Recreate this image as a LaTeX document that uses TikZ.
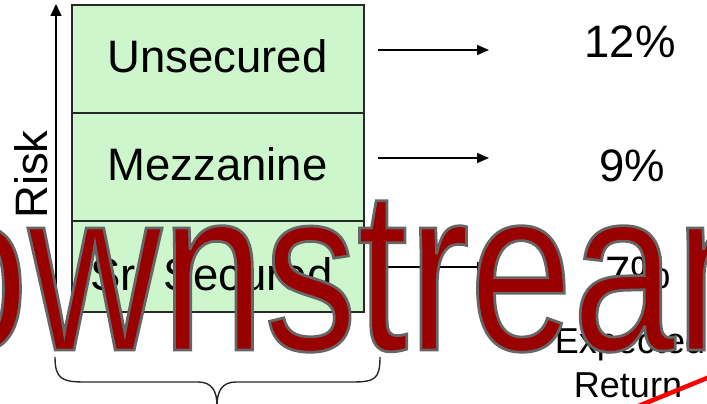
\documentclass[tikz,border=0pt]{standalone}
\usepackage{fontspec}
\setmainfont{Liberation Sans}
\newfontfamily\wmfont{Liberation Sans}[FakeStretch=0.8,BoldFont={Liberation Sans},BoldFeatures={FakeBold=1.2}]
\usetikzlibrary{arrows.meta}
\definecolor{cellgreen}{RGB}{205,246,205}
\definecolor{wmred}{RGB}{153,0,0}
\definecolor{linegray}{RGB}{40,40,40}
\tikzset{
  cell/.style={draw=linegray, fill=cellgreen, line width=1.5pt, minimum width=292pt, inner sep=0pt, outer sep=0pt},
  lab/.style={inner sep=0pt, outer sep=0pt, font=\fontsize{45.5}{45.5}\selectfont, text=black},
  lab2/.style={inner sep=0pt, outer sep=0pt, font=\fontsize{36}{36}\selectfont, text=black},
  harrow/.style={line width=1.8pt, -{Triangle[length=12pt,width=10pt]}},
  axisarrow/.style={line width=1.6pt, -{Triangle[length=12pt,width=11pt]}},
  bracepath/.style={line width=1.4pt, draw=linegray},
  watermark/.style={anchor=base west, inner sep=0pt, outer sep=0pt, text=wmred,
    font=\wmfont\bfseries\fontsize{231}{231}\selectfont},
  redline/.style={draw=red, line width=4.5pt}
}
\begin{document}
\begin{tikzpicture}[x=1pt,y=-1pt]
\useasboundingbox (0,0) rectangle (707,404);
\clip (0,0) rectangle (707,404);
\fill[white] (0,0) rectangle (707,404);

% stacked cells
\node[cell, minimum height=108pt] (cu) at (218,59) {};
\node[cell, minimum height=108pt] (cm) at (218,167) {};
\node[cell, minimum height=91pt] (cs) at (218,266.5) {};

\node[lab, anchor=base] (tu) at (217.5,73) {Unsecured};
\node[lab, anchor=base] (tm) at (217.5,180) {Mezzanine};
\node[lab, anchor=base] (ts) at (211.5,290) {Sr. Secured};

% risk axis
\coordinate (rb) at (56,312);
\coordinate (rt) at (56,4);
\draw[axisarrow] (rb) -- (rt);
\node[lab, rotate=90, anchor=base] (risk) at (47,174.5) {Risk};

% returns
\node[lab, anchor=base] (p12) at (630,58) {12\%};
\node[lab, anchor=base] (p9) at (632,181) {9\%};
\node[lab, anchor=base] (p7) at (638,288) {7\%};

\coordinate (a1s) at (378,50);  \coordinate (a1e) at (489,50);
\coordinate (a2s) at (378,158); \coordinate (a2e) at (489,158);
\coordinate (a3s) at (378,267); \coordinate (a3e) at (489,267);
\draw[harrow] (a1s) -- (a1e);
\draw[harrow] (a2s) -- (a2e);
\draw[harrow] (a3s) -- (a3e);

\node[lab2, anchor=base] (exp) at (630,353) {Expected};
\node[lab2, anchor=base] (ret) at (628,397) {Return};

% brace
\coordinate (bl) at (55,357);
\coordinate (br) at (380,357);
\coordinate (bt) at (217,406);
\draw[bracepath] (bl) .. controls (55,379) and (62,382) .. (85,382) -- (198,382)
  .. controls (212,382) and (217,391) .. (bt);
\draw[bracepath] (bt) .. controls (217,391) and (222,382) .. (236,382) -- (352,382)
  .. controls (375,382) and (380,379) .. (br);

% watermark
\node[watermark] (wm) at (-208,350) {\special{pdf:code 0.4 0.4 0.4 RG}Downstream};

% red stroke
\coordinate (r1) at (636,407);
\coordinate (r2) at (712,376);
\draw[redline] (r1) -- (r2);
\end{tikzpicture}
\end{document}
